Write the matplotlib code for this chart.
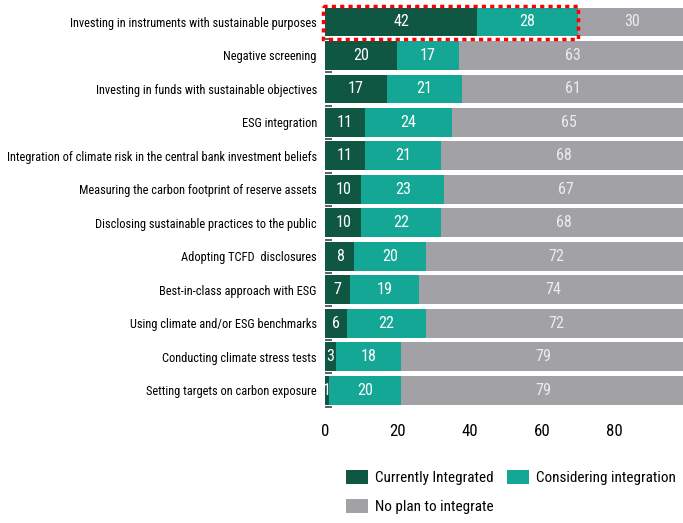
import matplotlib
matplotlib.use("Agg")
import matplotlib.pyplot as plt
from matplotlib.patches import Rectangle
from matplotlib import font_manager

# pick a condensed family that has a regular-weight face
regular = {f.name for f in font_manager.fontManager.ttflist
           if f.style == "normal" and f.weight in (400, "normal", "regular")}
font = "DejaVu Sans"
for cand in ["Noto Sans Condensed", "Roboto Condensed", "Open Sans Condensed",
             "Asap Condensed", "Barlow Semi Condensed", "Archivo Narrow"]:
    if cand in regular:
        font = cand
        break
plt.rcParams["font.family"] = [font, "DejaVu Sans"]
plt.rcParams["font.weight"] = "normal"

categories = [
    "Investing in instruments with sustainable purposes",
    "Negative screening",
    "Investing in funds with sustainable objectives",
    "ESG integration",
    "Integration of climate risk in the central bank investment beliefs",
    "Measuring the carbon footprint of reserve assets",
    "Disclosing sustainable practices to the public",
    "Adopting TCFD  disclosures",
    "Best-in-class approach with ESG",
    "Using climate and/or ESG benchmarks",
    "Conducting climate stress tests",
    "Setting targets on carbon exposure",
]
integrated = [42, 20, 17, 11, 11, 10, 10, 8, 7, 6, 3, 1]
considering = [28, 17, 21, 24, 21, 23, 22, 20, 19, 22, 18, 20]
no_plan = [30, 63, 61, 65, 68, 67, 68, 72, 74, 72, 79, 79]
series_names = ["Currently Integrated", "Considering integration", "No plan to integrate"]
colors = ["#0f5743", "#15a795", "#a2a2a6"]

fig = plt.figure(figsize=(6.83, 5.23), dpi=100)

# size the text so the longest label spans about as wide as in the source
renderer = fig.canvas.get_renderer()
probe = fig.text(0, 0, max(categories, key=len), fontsize=10)
w = probe.get_window_extent(renderer).width
probe.remove()
fs = min(12.5, 10 * 310 / w)

ax = fig.add_axes([0.476, 0.222, 0.524, 0.768])

y = list(range(len(categories)))
left = [0] * len(categories)
handles = []
for vals, name, col in zip([integrated, considering, no_plan], series_names, colors):
    b = ax.barh(y, vals, left=left, height=0.86, color=col, label=name)
    handles.append(b)
    for yi, l, v in zip(y, left, vals):
        ax.text(l + v / 2, yi, str(v), ha="center", va="center",
                color="white" if col != colors[2] else "#ececec", fontsize=fs * 1.3)
    left = [a + b for a, b in zip(left, vals)]

ax.set_ylim(len(categories) - 0.5, -0.5)
ax.set_xlim(0, 99)
ax.set_yticks(y)
ax.set_yticklabels(categories, fontsize=fs)
ax.set_yticks([i + 0.5 for i in y], minor=True)
ax.set_xticks([0, 20, 40, 60, 80])
ax.tick_params(axis="x", length=0, labelsize=fs * 1.35, pad=12)
ax.tick_params(axis="y", which="major", length=0, pad=6)
ax.tick_params(axis="y", which="minor", length=5, width=1.2, direction="in", color="#444444")
for s in ax.spines.values():
    s.set_visible(False)

# highlight box around the first row
ax.add_patch(Rectangle((-0.5, -0.48), 70.5, 0.98, fill=False, edgecolor="red",
                       linestyle=(0, (1.2, 1.2)), linewidth=2.5, clip_on=False, zorder=5))

# legend fills row-wise: two on top, "No plan" below
order = [0, 2, 1]
fig.legend([handles[i] for i in order], [series_names[i] for i in order],
           loc="upper left", bbox_to_anchor=(0.487, 0.128), ncol=2, frameon=False,
           fontsize=fs * 1.22, handlelength=1.4, handleheight=1.1, columnspacing=0.9,
           labelspacing=0.9, handletextpad=0.5)

fig.savefig("out.png", dpi=100)
